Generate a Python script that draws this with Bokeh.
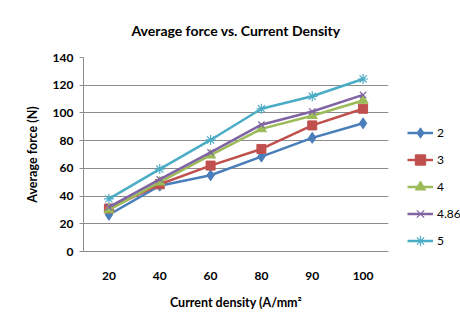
from bokeh.plotting import figure
from bokeh.models import Legend, LegendItem, Range1d, FixedTicker
from bokeh.embed import file_html
from bokeh.resources import INLINE

categories = ["20", "40", "60", "80", "90", "100"]
series_names = ["2", "3", "4", "4.86", "5"]
s2 = [26.5, 47.5, 55, 68.5, 82, 92.5]
s3 = [31, 48.5, 62, 74, 91, 103]
s4 = [30, 50, 69.5, 88.5, 98, 109]
s486 = [32, 52, 71.5, 91.5, 101, 113]
s5 = [38, 59.5, 80.5, 103, 112, 124.5]
y_ticks = [0, 20, 40, 60, 80, 100, 120, 140]

FONT = "Lato"

p = figure(frame_width=305, frame_height=194, x_range=categories, y_range=Range1d(0, 140),
           output_backend="svg", toolbar_location=None,
           min_border_left=83, min_border_right=72, min_border_top=57, min_border_bottom=78)
p.outline_line_color = None
p.background_fill_color = "white"
p.border_fill_color = "white"

p.title.text = "Average force vs. Current Density"
p.title.align = "center"
p.title.text_font = FONT
p.title.text_font_size = "14px"
p.title.text_font_style = "bold"
p.title.text_color = "#000000"
p.title.standoff = 38

p.xgrid.grid_line_color = None
p.ygrid.grid_line_color = "#8c8c8c"
p.ygrid.grid_line_width = 1
p.yaxis.ticker = FixedTicker(ticks=y_ticks)

for ax in (p.xaxis[0], p.yaxis[0]):
    ax.axis_line_color = "#8c8c8c"
    ax.major_tick_line_color = "#8c8c8c"
    ax.minor_tick_line_color = None
    ax.major_label_text_font = FONT
    ax.major_label_text_font_size = "12px"
    ax.major_label_text_font_style = "bold"
    ax.major_label_text_color = "#000000"
    ax.axis_label_text_font = FONT
    ax.axis_label_text_font_size = "12.5px"
    ax.axis_label_text_font_style = "bold"
    ax.axis_label_text_color = "#000000"

p.xaxis.major_tick_line_color = None
p.xaxis.major_label_standoff = 14
p.xaxis.axis_label = "Current density (A/mm²"
p.xaxis.axis_label_standoff = 12
p.yaxis.major_tick_out = 4
p.yaxis.major_tick_in = 0
p.yaxis.major_label_standoff = 6
p.yaxis.axis_label = "Average force (N)"
p.yaxis.axis_label_standoff = 10

colors = ["#4a7ebb", "#c0504d", "#9bbb59", "#8064a2", "#4bacc6"]
data = [s2, s3, s4, s486, s5]
items = []
for name, vals, c in zip(series_names, data, colors):
    r = [p.line(categories, vals, line_color=c, line_width=2.5)]
    if name == "2":
        r.append(p.scatter(categories, vals, marker="diamond", size=11, fill_color=c, line_color=c))
    elif name == "3":
        r.append(p.scatter(categories, vals, marker="square", size=9, fill_color=c, line_color=c))
    elif name == "4":
        r.append(p.scatter(categories, vals, marker="triangle", size=10, fill_color=c, line_color=c))
    elif name == "4.86":
        r.append(p.scatter(categories, vals, marker="x", size=9, fill_color=None, line_color=c, line_width=1.2))
    else:
        r.append(p.scatter(categories, vals, marker="asterisk", size=10, fill_color=None, line_color=c, line_width=1.2))
    items.append(LegendItem(label=name, renderers=r))

legend = Legend(items=items, location=(19, -3), padding=0, margin=0, spacing=0,
                glyph_width=26, glyph_height=27, label_height=27, label_standoff=4,
                border_line_color=None, background_fill_alpha=0,
                label_text_font=FONT, label_text_font_size="12px", label_text_color="#000000")
p.add_layout(legend, "right")

open("out.html", "w").write(file_html(p, INLINE))
